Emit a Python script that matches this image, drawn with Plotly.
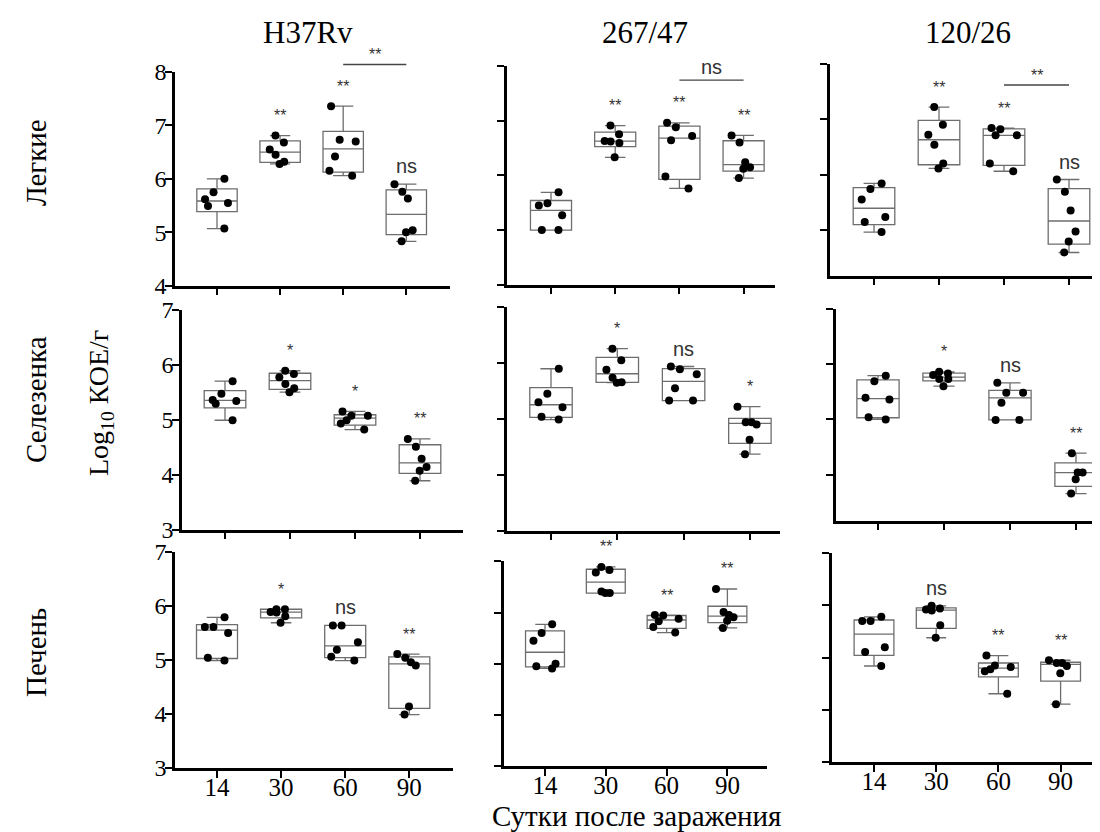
import numpy as np
import plotly.graph_objects as go

DAYS = ['14', '30', '60', '90']
STRAINS = ['H37Rv', '267/47', '120/26']
ORGANS = ['Легкие', 'Селезенка', 'Печень']

# log10 CFU per organ, one list per day (14, 30, 60, 90)
LUNG_H37RV = [[6.00, 5.75, 5.62, 5.55, 5.49, 5.07],
              [6.81, 6.68, 6.55, 6.45, 6.32, 6.28],
              [7.36, 6.73, 6.70, 6.42, 6.15, 6.06],
              [5.90, 5.76, 5.63, 5.04, 5.00, 4.83]]
LUNG_267 = [[5.69, 5.49, 5.45, 5.27, 5.00, 5.00],
            [6.91, 6.75, 6.63, 6.62, 6.59, 6.33],
            [6.96, 6.88, 6.72, 6.64, 5.98, 5.76],
            [6.73, 6.60, 6.24, 6.15, 6.12, 5.95]]
LUNG_120 = [[5.84, 5.74, 5.55, 5.23, 5.14, 4.96],
            [7.22, 6.90, 6.72, 6.54, 6.20, 6.11],
            [6.84, 6.82, 6.71, 6.71, 6.20, 6.06],
            [5.91, 5.69, 5.35, 4.97, 4.79, 4.59]]

SPLEEN_H37RV = [[5.70, 5.47, 5.36, 5.34, 5.29, 4.99],
                [5.89, 5.83, 5.77, 5.65, 5.57, 5.50],
                [5.15, 5.07, 5.07, 4.99, 4.93, 4.82],
                [4.65, 4.51, 4.29, 4.14, 4.07, 3.89]]
SPLEEN_267 = [[5.90, 5.45, 5.30, 5.21, 5.04, 4.99],
              [6.26, 6.05, 5.88, 5.74, 5.66, 5.65],
              [5.94, 5.89, 5.80, 5.55, 5.33, 5.33],
              [5.22, 4.94, 4.94, 4.90, 4.63, 4.37]]
SPLEEN_120 = [[5.79, 5.69, 5.39, 5.36, 5.04, 5.00],
              [5.86, 5.83, 5.80, 5.73, 5.73, 5.60],
              [5.66, 5.48, 5.48, 5.30, 4.99, 4.99],
              [4.39, 4.04, 4.04, 3.92, 3.66]]

LIVER_H37RV = [[5.79, 5.61, 5.61, 5.50, 5.04, 4.99],
               [5.94, 5.94, 5.89, 5.88, 5.81, 5.69],
               [5.64, 5.64, 5.33, 5.19, 5.06, 4.99],
               [5.11, 5.04, 4.96, 4.90, 4.14, 3.99]]
LIVER_267 = [[5.77, 5.60, 5.45, 5.00, 4.95, 4.91],
             [6.89, 6.83, 6.78, 6.41, 6.38, 6.38],
             [5.95, 5.94, 5.88, 5.83, 5.72, 5.61],
             [6.46, 6.01, 5.95, 5.91, 5.84, 5.70]]
LIVER_120 = [[5.78, 5.70, 5.70, 5.20, 5.11, 4.84],
             [5.99, 5.94, 5.92, 5.90, 5.62, 5.38],
             [5.04, 4.85, 4.82, 4.78, 4.74, 4.31],
             [4.95, 4.90, 4.90, 4.84, 4.70, 4.11]]

DATA = [[LUNG_H37RV, LUNG_267, LUNG_120],
        [SPLEEN_H37RV, SPLEEN_267, SPLEEN_120],
        [LIVER_H37RV, LIVER_267, LIVER_120]]

# significance vs day 14
SIG = [[['', '**', '**', 'ns'], ['', '**', '**', '**'], ['', '**', '**', 'ns']],
       [['', '*', '*', '**'], ['', '*', 'ns', '*'], ['', '*', 'ns', '**']],
       [['', '*', 'ns', '**'], ['', '**', '**', '**'], ['', 'ns', '**', '**']]]
# day 60 vs day 90 bracket (lungs only)
BRACKET_SIG = ['**', 'ns', '**']

Y_TICKS = [[4, 5, 6, 7, 8], [3, 4, 5, 6, 7], [3, 4, 5, 6, 7]]

W, H = 1100, 832
# pixel frames: left, right, first tick x, tick step, top, bottom, top value, bottom value
PANELS = [
    [(167, 442, 209, 63.1, 64, 277.7, 8, 4),
     (499, 767, 543, 64.2, 58, 276.7, 8, 4),
     (822, 1097, 866, 65.0, 56, 267.7, 8, 4.17)],
    [(174, 455, 217, 65.0, 301.7, 521.7, 7, 3),
     (499, 772, 543, 66.3, 299.3, 522.7, 7, 3),
     (828, 1097, 870, 66.0, 300.7, 512.7, 7, 3.17)],
    [(167, 445, 209, 64.1, 544, 760, 7, 3),
     (496, 759, 537, 60.8, 553.3, 758.3, 7, 3),
     (824, 1095, 866, 62.2, 545, 754.3, 7, 3)],
]

SERIF = 'Liberation Serif'
SANS = 'Liberation Sans'
BOX_COLOR = '#6e6e6e'

fig = go.Figure()
layout = {}
shapes = []
annotations = []


def paper_text(x_px, y_px, text, size, angle=0):
    return dict(x=x_px / W, y=1 - y_px / H, xref='paper', yref='paper',
                xanchor='center', yanchor='middle', text=text, textangle=angle,
                showarrow=False, font=dict(family=SERIF, size=size, color='black'))


def sig_font(s):
    return dict(family=SANS, size=20 if s == 'ns' else 16, color='#333')


for r in range(3):
    for c in range(3):
        k = r * 3 + c + 1
        xa = 'x' if k == 1 else f'x{k}'
        ya = 'y' if k == 1 else f'y{k}'
        groups = DATA[r][c]

        # box statistics (min-max whiskers, GraphPad style quartiles)
        q1 = [np.percentile(g, 25, method='weibull') for g in groups]
        med = [np.median(g) for g in groups]
        q3 = [np.percentile(g, 75, method='weibull') for g in groups]
        lo = [min(g) for g in groups]
        hi = [max(g) for g in groups]

        fig.add_trace(go.Box(
            x=DAYS, q1=q1, median=med, q3=q3, lowerfence=lo, upperfence=hi,
            boxpoints=False, width=0.64, whiskerwidth=0.5,
            fillcolor='white', line=dict(color=BOX_COLOR, width=1.3),
            xaxis=xa, yaxis=ya, showlegend=False, hoverinfo='skip'))

        xs = [d for d, g in zip(DAYS, groups) for _ in g]
        ys = [v for g in groups for v in g]
        fig.add_trace(go.Box(
            x=xs, y=ys, boxpoints='all', jitter=0.7, pointpos=0, width=0.64,
            fillcolor='rgba(0,0,0,0)', line=dict(color='rgba(0,0,0,0)', width=0),
            marker=dict(color='black', size=8),
            xaxis=xa, yaxis=ya, showlegend=False, hoverinfo='y'))

        xl, xr, t0, step, yt, yb, vt, vb = PANELS[r][c]
        layout['xaxis' if k == 1 else f'xaxis{k}'] = dict(
            domain=[xl / W, xr / W], anchor=ya, type='category',
            categoryorder='array', categoryarray=DAYS,
            range=[(xl - t0) / step, (xr - t0) / step],
            showline=True, linecolor='black', linewidth=2.5,
            ticks='outside', ticklen=7, tickwidth=2, tickcolor='black',
            showgrid=False, zeroline=False, showticklabels=(r == 2),
            ticklabelstandoff=-12, automargin=False,
            tickfont=dict(family=SERIF, size=25, color='black'))
        layout['yaxis' if k == 1 else f'yaxis{k}'] = dict(
            domain=[1 - yb / H, 1 - yt / H], anchor=xa,
            range=[vb, vt], tickvals=Y_TICKS[r],
            showline=True, linecolor='black', linewidth=2.5,
            ticks='outside', ticklen=7, tickwidth=2, tickcolor='black',
            showgrid=False, zeroline=False, showticklabels=(c == 0),
            ticklabelstandoff=-6, automargin=False,
            tickfont=dict(family=SERIF, size=24, color='black'))

        for i, s in enumerate(SIG[r][c]):
            if not s:
                continue
            annotations.append(dict(
                x=i, y=max(groups[i]), xref=xa, yref=ya,
                text=s, showarrow=False, xanchor='center', yanchor='middle',
                yshift=18 if s == 'ns' else 20, font=sig_font(s)))

        if r == 0:
            top = max(max(groups[2]), max(groups[3])) + 0.78
            frac = (top - vb) / (vt - vb)
            shapes.append(dict(type='line', xref=xa, yref=f'{ya} domain',
                               x0=2, x1=3, y0=frac, y1=frac,
                               line=dict(color='#444', width=1.3)))
            s = BRACKET_SIG[c]
            annotations.append(dict(
                x=2.5, y=frac, xref=xa, yref=f'{ya} domain', text=s,
                showarrow=False, xanchor='center', yanchor='middle',
                yshift=13 if s == 'ns' else 10, font=sig_font(s)))

# column and row titles
for x_px, name in zip([300, 637, 960], STRAINS):
    annotations.append(paper_text(x_px, 25, name, 31))
for y_px, name in zip([155, 392, 645], ORGANS):
    annotations.append(paper_text(28, y_px, name, 29, -90))
annotations.append(paper_text(92, 395, 'Log<sub>10</sub> КОЕ/г', 28, -90))
annotations.append(paper_text(628, 808, 'Сутки после заражения', 29))

fig.update_layout(
    width=W, height=H,
    margin=dict(l=0, r=0, t=0, b=0, autoexpand=False),
    paper_bgcolor='white', plot_bgcolor='white',
    boxmode='overlay',
    shapes=shapes, annotations=annotations,
    **layout)

fig.write_html("out.html")
